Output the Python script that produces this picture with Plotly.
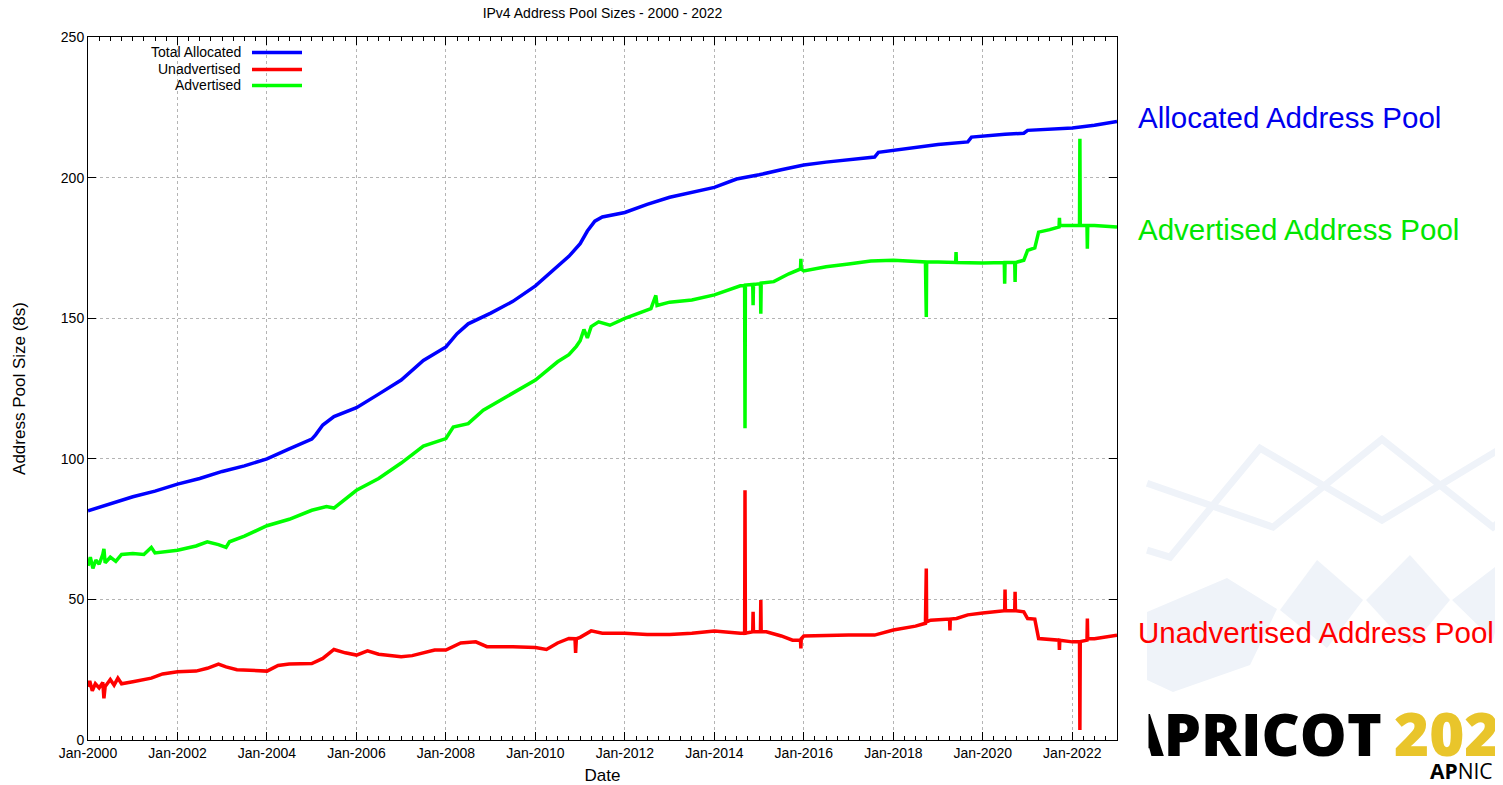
import plotly.graph_objects as go

# Total allocated pool (/8s)
alloc_dates = [
    "2000-01-01", "2000-07-01", "2001-01-01", "2001-07-01", "2002-01-01", "2002-07-01",
    "2003-01-01", "2003-07-01", "2004-01-01", "2004-07-01", "2005-01-01", "2005-02-01",
    "2005-04-01", "2005-07-01", "2006-01-01", "2006-07-01", "2007-01-01", "2007-07-01",
    "2008-01-01", "2008-04-01", "2008-07-01", "2009-01-01", "2009-07-01", "2010-01-01",
    "2010-07-01", "2010-10-01", "2011-01-01", "2011-03-01", "2011-05-01", "2011-07-01",
    "2012-01-01", "2012-07-01", "2013-01-01", "2013-07-01", "2014-01-01", "2014-07-01",
    "2015-01-01", "2015-07-01", "2016-01-01", "2016-07-01", "2017-01-01", "2017-08-01",
    "2017-09-01", "2018-01-01", "2018-07-01", "2019-01-01", "2019-09-01", "2019-10-01",
    "2020-07-01", "2020-12-01", "2021-01-01", "2021-07-01", "2022-01-01", "2022-07-01",
    "2023-01-01",
]
alloc_vals = [
    81.5, 84, 86.5, 88.5, 91, 93,
    95.5, 97.5, 100, 103.5, 107, 108.5,
    112, 115, 118.2, 123, 128, 135,
    139.8, 144.5, 148, 151.8, 156, 161.5,
    168.5, 172, 176.5, 181, 184.5, 186,
    187.6, 190.5, 193, 194.8, 196.5, 199.5,
    201, 202.8, 204.5, 205.5, 206.2, 207.3,
    209, 209.7, 210.8, 211.8, 212.7, 214.4,
    215.4, 215.8, 216.8, 217.1, 217.6, 218.6,
    220,
]

# Unadvertised pool
unadv_dates = [
    "2000-01-01", "2000-01-15", "2000-02-05", "2000-03-01", "2000-04-01", "2000-05-01",
    "2000-05-10", "2000-05-20", "2000-07-01", "2000-08-01", "2000-09-01", "2000-10-01",
    "2001-01-01", "2001-04-01", "2001-06-01", "2001-09-01", "2002-01-01", "2002-06-01",
    "2002-09-01", "2002-12-01", "2003-02-01", "2003-05-01", "2003-08-01", "2004-01-01",
    "2004-04-01", "2004-07-01", "2005-01-01", "2005-04-01", "2005-07-01", "2005-10-01",
    "2006-01-01", "2006-04-01", "2006-07-01", "2007-01-01", "2007-04-01", "2007-07-01",
    "2007-10-01", "2008-01-01", "2008-05-01", "2008-09-01", "2008-12-01", "2009-07-01",
    "2010-01-01", "2010-04-01", "2010-07-01", "2010-10-01", "2010-11-20", "2010-11-25",
    "2010-12-01", "2011-01-01", "2011-04-01", "2011-07-01", "2012-01-01", "2012-07-01",
    "2013-01-01", "2013-07-01", "2014-01-01", "2014-08-01", "2014-09-05", "2014-09-08",
    "2014-09-11", "2014-11-10", "2014-11-13", "2014-11-16", "2015-01-12", "2015-01-15",
    "2015-01-18", "2015-03-01", "2015-07-01", "2015-10-01", "2015-12-05", "2015-12-08",
    "2015-12-11", "2016-01-01", "2016-07-01", "2017-01-01", "2017-08-01", "2018-01-01",
    "2018-07-01", "2018-09-20", "2018-09-27", "2018-09-30", "2018-11-01", "2019-04-05",
    "2019-04-08", "2019-04-11", "2019-06-01", "2019-09-01", "2020-01-01", "2020-06-01",
    "2020-06-28", "2020-07-01", "2020-07-04", "2020-09-18", "2020-09-21", "2020-09-24",
    "2020-12-01", "2021-01-01", "2021-03-01", "2021-04-01", "2021-09-15", "2021-09-18",
    "2021-09-21", "2022-01-01", "2022-03-01", "2022-03-04", "2022-03-07", "2022-05-01",
    "2022-05-04", "2022-05-07", "2022-07-01", "2023-01-01",
]
unadv_vals = [
    18.9, 21, 17.5, 20, 18.5, 20.5,
    14.8, 19, 21.5, 19.5, 22, 20,
    20.7, 21.5, 22, 23.5, 24.3, 24.5,
    25.5, 27, 26, 25, 24.9, 24.5,
    26.5, 27, 27.2, 29, 32.2, 31,
    30.2, 31.7, 30.5, 29.6, 30, 31,
    32, 32, 34.5, 34.9, 33.2, 33.2,
    32.9, 32.2, 34.5, 36.1, 36, 31,
    36, 36.5, 38.8, 38, 38, 37.5,
    37.5, 38, 38.8, 38, 38, 88.8,
    38, 38.5, 45.6, 38.5, 38.5, 49.8,
    38.5, 38.5, 37, 35.5, 35.5, 32.6,
    36, 37, 37.3, 37.3, 37.3, 39.1,
    40.5, 41.5, 61, 42, 42.6, 43,
    39, 43, 43.2, 44.5, 45.2, 46,
    46, 53.5, 46, 46, 52.7, 46,
    45.6, 43.2, 43, 36.1, 35.5, 32,
    35.5, 34.9, 35, 3.6, 35, 35.5,
    43.2, 36, 36, 37.3,
]

# Advertised pool
adv_dates = [
    "2000-01-01", "2000-01-20", "2000-02-10", "2000-03-05", "2000-04-01", "2000-05-01",
    "2000-05-10", "2000-05-20", "2000-07-01", "2000-08-15", "2000-10-01", "2001-01-01",
    "2001-04-01", "2001-06-01", "2001-07-01", "2002-01-01", "2002-06-01", "2002-09-01",
    "2002-12-01", "2003-02-01", "2003-03-01", "2003-07-01", "2004-01-01", "2004-07-01",
    "2005-01-01", "2005-05-01", "2005-07-01", "2006-01-01", "2006-07-01", "2007-01-01",
    "2007-07-01", "2008-01-01", "2008-03-01", "2008-07-01", "2008-11-01", "2009-07-01",
    "2010-01-01", "2010-07-01", "2010-10-01", "2010-12-01", "2011-01-01", "2011-02-01",
    "2011-03-01", "2011-04-01", "2011-06-01", "2011-09-01", "2012-01-01", "2012-08-01",
    "2012-09-10", "2012-09-20", "2013-01-01", "2013-07-01", "2014-01-01", "2014-08-01",
    "2014-09-05", "2014-09-08", "2014-09-11", "2014-11-10", "2014-11-13", "2014-11-16",
    "2015-01-12", "2015-01-15", "2015-01-18", "2015-05-01", "2015-09-01", "2015-12-05",
    "2015-12-08", "2015-12-11", "2016-01-01", "2016-07-01", "2017-01-01", "2017-07-01",
    "2018-01-01", "2018-09-20", "2018-09-27", "2018-09-30", "2019-01-01", "2019-05-25",
    "2019-05-28", "2019-05-31", "2020-01-01", "2020-06-25", "2020-06-28", "2020-07-01",
    "2020-09-18", "2020-09-21", "2020-09-24", "2020-12-01", "2021-01-01", "2021-03-01",
    "2021-04-01", "2021-07-01", "2021-09-15", "2021-09-18", "2021-09-21", "2022-01-01",
    "2022-03-01", "2022-03-04", "2022-03-07", "2022-05-01", "2022-05-04", "2022-05-07",
    "2022-07-01", "2023-01-01",
]
adv_vals = [
    62, 65, 61, 64, 62.5, 66,
    68, 63, 65, 63.5, 66, 66.3,
    66, 68.5, 66.5, 67.5, 69, 70.5,
    69.5, 68.5, 70.5, 72.5, 76.2, 78.5,
    81.7, 83, 82.5, 88.8, 93, 98.5,
    104.5, 107.2, 111.3, 112.5, 117.3, 123.2,
    128, 134.5, 137, 140, 142, 146,
    143, 147, 148.7, 147.5, 149.9, 153.4,
    158.1, 154.5, 155.7, 156.5, 158.3, 161.5,
    161.5, 110.9, 161.8, 162, 154.6, 162,
    162.3, 151.6, 162.5, 163, 165.8, 167.5,
    171.1, 167.5, 166.8, 168.3, 169.3, 170.3,
    170.6, 170, 150.4, 170, 170, 169.8,
    173.5, 169.8, 169.6, 169.8, 162.3, 169.8,
    169.8, 162.9, 169.8, 170.6, 174.1, 175,
    180.6, 181.5, 182.5, 185.7, 183, 183,
    183, 213.8, 183, 183, 174.7, 183,
    183, 182.4,
]

# the page body adds an 8px margin, so the figure is drawn 8px smaller
OFF = 8
W, H = 1503 - OFF, 785 - OFF
L, R, T, B = 88, 1117, 36.5, 740
FONT = "Liberation Sans, Arial, sans-serif"


def px(x):
    return (x - L) / (R - L)


def py(y):
    return (B - y) / (B - T)


fig = go.Figure()
fig.add_trace(go.Scatter(x=alloc_dates, y=alloc_vals, mode="lines",
                         line=dict(color="#0000ff", width=3.5), name="Total Allocated"))
fig.add_trace(go.Scatter(x=unadv_dates, y=unadv_vals, mode="lines",
                         line=dict(color="#ff0000", width=3.5), name="Unadvertised"))
fig.add_trace(go.Scatter(x=adv_dates, y=adv_vals, mode="lines",
                         line=dict(color="#00ff00", width=3.5), name="Advertised"))

fig.update_layout(
    width=W, height=H, autosize=False,
    margin=dict(l=L - OFF, r=W - (R - OFF), t=T - OFF, b=H - (B - OFF), autoexpand=False),
    paper_bgcolor="white", plot_bgcolor="white",
    showlegend=False,
    font=dict(family=FONT, size=14, color="black"),
    title=dict(text="IPv4 Address Pool Sizes - 2000 - 2022", x=((L + R) / 2 - OFF) / W,
               xanchor="center", y=1 - (13 - OFF) / H, yanchor="middle", font=dict(size=14)),
)

fig.update_xaxes(
    type="date", range=["2000-01-01", "2023-01-01"],
    tick0="2000-01-01", dtick="M24", tickformat="%b-%Y",
    ticks="inside", ticklen=8, tickcolor="black",
    minor=dict(dtick="M3", ticks="inside", ticklen=4, tickcolor="black", showgrid=False),
    showgrid=True, gridcolor="#b4b4b4", griddash="dot", gridwidth=1,
    showline=True, linecolor="black", linewidth=1, mirror="allticks",
    title=dict(text="Date", standoff=11), zeroline=False, automargin=False,
)
fig.update_yaxes(
    range=[0, 250], dtick=50,
    ticks="inside", ticklen=8, tickcolor="black",
    showgrid=True, gridcolor="#b4b4b4", griddash="dot", gridwidth=1,
    showline=True, linecolor="black", linewidth=1, mirror="allticks",
    title=dict(text="Address Pool Size (8s)", standoff=30), zeroline=False, automargin=False,
)

shapes = []
annotations = []

# faint slide background pattern
deco = "#eff3f9"
zig_a = [(1147, 483), (1273, 527), (1382, 439), (1493, 527), (1503, 519)]
zig_b = [(1147, 550), (1170, 557), (1260, 448), (1382, 520), (1503, 447)]
for pts in (zig_a, zig_b):
    path = "M " + " L ".join(f"{px(x):.4f},{py(y):.4f}" for x, y in pts)
    shapes.append(dict(type="path", path=path, xref="paper", yref="paper",
                       line=dict(color=deco, width=7), layer="below"))
diamonds = [
    [(1147, 612), (1227, 578), (1277, 609), (1250, 665), (1173, 692), (1147, 680)],
    [(1280, 610), (1317, 560), (1363, 600), (1327, 648)],
    [(1366, 600), (1410, 555), (1450, 600), (1410, 648)],
    [(1452, 600), (1500, 563), (1503, 600), (1493, 640)],
]
for pts in diamonds:
    path = "M " + " L ".join(f"{px(x):.4f},{py(y):.4f}" for x, y in pts) + " Z"
    shapes.append(dict(type="path", path=path, xref="paper", yref="paper",
                       fillcolor=deco, line=dict(width=0), layer="below"))

# gnuplot style legend: label right-aligned, sample line after it
legend_rows = [("Total Allocated", "#0000ff", 52), ("Unadvertised", "#ff0000", 69),
               ("Advertised", "#00ff00", 85)]
for label, color, y in legend_rows:
    annotations.append(dict(text=label, x=px(243), y=py(y), xref="paper", yref="paper",
                            xanchor="right", yanchor="middle", showarrow=False,
                            font=dict(size=14)))
    shapes.append(dict(type="line", x0=px(252), x1=px(302), y0=py(y), y1=py(y),
                       xref="paper", yref="paper", line=dict(color=color, width=3.5)))

# slide labels on the right
side_labels = [("Allocated Address Pool", "#0000ee", 117), ("Advertised Address Pool", "#00e600", 229),
               ("Unadvertised Address Pool", "#ff0000", 632)]
for label, color, y in side_labels:
    annotations.append(dict(text=label, x=px(1136), y=py(y), xref="paper", yref="paper",
                            xanchor="left", yanchor="middle", showarrow=False,
                            font=dict(size=29.5, color=color)))

# conference logo, its first letter hidden behind the chart image edge
annotations.append(dict(text="APRICOT", x=px(1119), y=py(733), xref="paper", yref="paper",
                        xanchor="left", yanchor="middle", showarrow=False,
                        font=dict(family="Open Sans", size=59, weight=800, color="black")))
annotations.append(dict(text="2023", x=px(1392), y=py(733), xref="paper", yref="paper",
                        xanchor="left", yanchor="middle", showarrow=False,
                        font=dict(family="Open Sans", size=60, weight=800, color="#e9c52b")))
annotations.append(dict(text="<b>AP</b>NIC 5", x=px(1428), y=py(771), xref="paper", yref="paper",
                        xanchor="left", yanchor="middle", showarrow=False,
                        font=dict(family="Open Sans", size=21, color="black")))
annotations.append(dict(text=" ", x=px(1119), y=py(733), xref="paper", yref="paper",
                        xanchor="left", yanchor="middle", showarrow=False, width=26, height=70,
                        bgcolor="white"))

fig.update_layout(shapes=shapes, annotations=annotations)

fig.write_html("out.html")
